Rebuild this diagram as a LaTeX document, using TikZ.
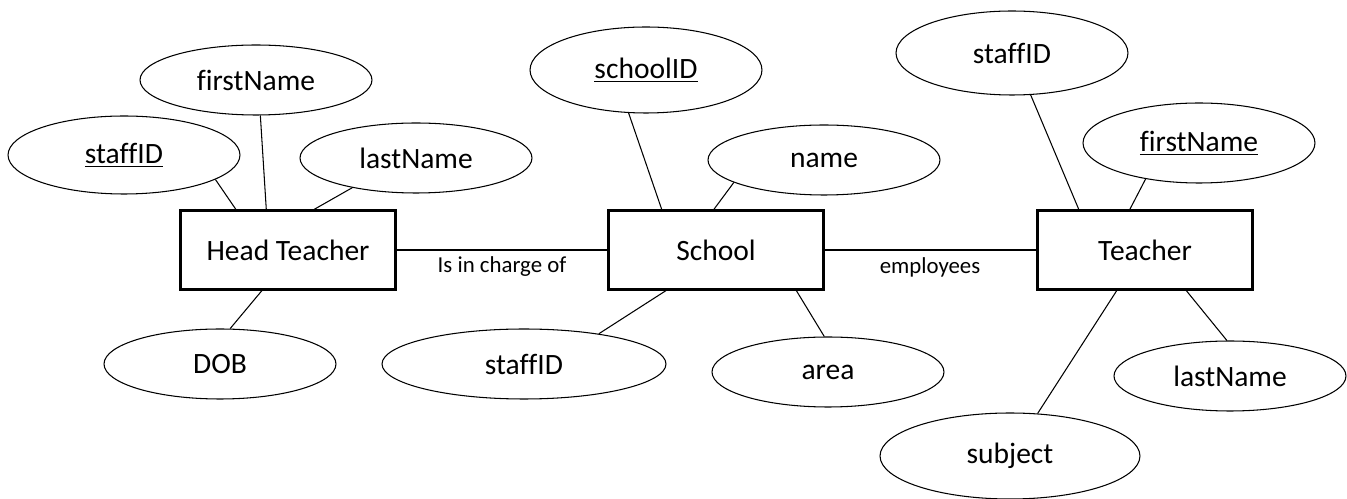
\documentclass[tikz,border=0pt]{standalone}
\usepackage{fontspec}
\setmainfont{Carlito}[Ligatures=NoCommon]
\usepackage{tikz}
\usetikzlibrary{shapes.geometric,calc}

\tikzset{
    attr/.style={ellipse, draw, line width=0.6pt, inner sep=0pt, minimum width=4.64cm, minimum height=1.4cm, font=\fontsize{16.8}{20}\selectfont},
    entity/.style={rectangle, draw, line width=1.2pt, minimum width=4.3cm, minimum height=1.58cm, font=\fontsize{16.8}{20}\selectfont},
    rel/.style={font=\fontsize{13}{16}\selectfont},
    link/.style={line width=0.6pt}
}

\begin{document}
\begin{tikzpicture}[x=0.02cm,y=-0.02cm]
        \useasboundingbox (0,0) rectangle (1347,499);
        \node[entity] (head) at (288,250) {Head Teacher};
        \node[entity] (school) at (716,250) {School};
        \node[entity] (teacher) at (1145,250) {Teacher};
        \node[attr] (hfirst) at (256,80) {firstName};
        \node[attr, minimum height=1.56cm] (hstaff) at (124,155) {\underline{staffID}};
        \node[attr] (hlast) at (416,158) {lastName};
        \node[attr] (hdob) at (220,364) {DOB};
        \node[attr, minimum height=1.72cm] (sid) at (646,70) {\underline{schoolID}};
        \node[attr] (sname) at (824,160) {name};
        \node[attr, minimum width=5.68cm] (sstaff) at (524,364) {staffID};
        \node[attr] (sarea) at (828,372) {area};
        \node[attr, minimum height=1.68cm] (tstaff) at (1012,53) {staffID};
        \node[attr, minimum height=1.6cm] (tfirst) at (1199,143) {\underline{firstName}};
        \node[attr] (tlast) at (1230,376) {lastName};
        \node[attr, minimum width=5.2cm, minimum height=1.72cm] (tsubj) at (1010,456) {subject};
        \node[rel] (charge) at (502,267) {Is in charge of};
        \node[rel] (employ) at (930,267) {employees};
        \draw [line width=1.2pt] (head.east) -- (school.west);
        \draw [line width=1.2pt] (school.east) -- (teacher.west);
        \draw [link] (hstaff.-15) -- ($(head.north west)!0.26!(head.north east)$);
        \draw [link] (hfirst.-83) -- ($(head.north west)!0.40!(head.north east)$);
        \draw [link] (hlast.-155) -- ($(head.north west)!0.62!(head.north east)$);
        \draw [link] (hdob.74) -- ($(head.south west)!0.38!(head.south east)$);
        \draw [link] (sid.-112) -- ($(school.north west)!0.25!(school.north east)$);
        \draw [link] (sname.-166) -- ($(school.north west)!0.49!(school.north east)$);
        \draw [link] (sstaff.22) -- ($(school.south west)!0.27!(school.south east)$);
        \draw [link] (sarea.96) -- ($(school.south west)!0.87!(school.south east)$);
        \draw [link] (tstaff.-66) -- ($(teacher.north west)!0.195!(teacher.north east)$);
        \draw [link] (tfirst.-146) -- ($(teacher.north west)!0.43!(teacher.north east)$);
        \draw [link] (tsubj.57) -- ($(teacher.south west)!0.37!(teacher.south east)$);
        \draw [link] (tlast.95) -- ($(teacher.south west)!0.69!(teacher.south east)$);
\end{tikzpicture}
\end{document}
